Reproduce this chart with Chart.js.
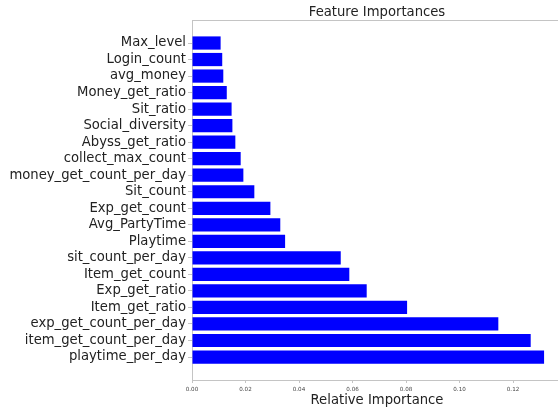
<!DOCTYPE html>
<html>
<head>
<meta charset="utf-8">
<script src="https://cdn.jsdelivr.net/npm/chart.js@4/dist/chart.umd.min.js"></script>
<style>
  html, body { margin: 0; padding: 0; background: #fff; overflow: hidden; }
  #wrap { width: 580px; height: 410px; position: relative; }
</style>
</head>
<body>
<div id="wrap"><canvas id="c"></canvas></div>
<script>
const features = [
  "Max_level", "Login_count", "avg_money", "Money_get_ratio", "Sit_ratio",
  "Social_diversity", "Abyss_get_ratio", "collect_max_count", "money_get_count_per_day",
  "Sit_count", "Exp_get_count", "Avg_PartyTime", "Playtime", "sit_count_per_day",
  "Item_get_count", "Exp_get_ratio", "Item_get_ratio", "exp_get_count_per_day",
  "item_get_count_per_day", "playtime_per_day"
];
const importances = [
  0.0107, 0.0113, 0.0117, 0.0130, 0.0148,
  0.0151, 0.0162, 0.0182, 0.0192,
  0.0233, 0.0293, 0.0330, 0.0348, 0.0556,
  0.0588, 0.0653, 0.0804, 0.1145,
  0.1266, 0.1316
];
const xTickStep = 0.02;

const FONT = "'DejaVu Sans', sans-serif";
const SPINE = '#c4c4c4';

const topBorder = {
  id: 'topBorder',
  afterDraw(chart) {
    const a = chart.chartArea, ctx = chart.ctx;
    ctx.save();
    ctx.strokeStyle = SPINE;
    ctx.lineWidth = 1;
    ctx.beginPath();
    ctx.moveTo(a.left, Math.round(a.top) + 0.5);
    ctx.lineTo(a.right, Math.round(a.top) + 0.5);
    ctx.stroke();
    ctx.restore();
  }
};

new Chart(document.getElementById('c'), {
  type: 'bar',
  data: {
    datasets: [{
      data: importances.map((v, i) => ({ x: v, y: i })),
      backgroundColor: '#0000ff',
      borderWidth: 0,
      barPercentage: 0.8,
      categoryPercentage: 1.0
    }]
  },
  options: {
    indexAxis: 'y',
    responsive: true,
    maintainAspectRatio: false,
    animation: false,
    layout: { padding: { left: 0, right: 18, top: 0, bottom: 0 } },
    plugins: {
      legend: { display: false },
      tooltip: { enabled: false },
      title: {
        display: true,
        text: 'Feature Importances',
        fullSize: false,
        color: '#222',
        font: { family: FONT, size: 13.2, weight: 'normal' },
        padding: { top: 4.2, bottom: 0 }
      }
    },
    scales: {
      x: {
        type: 'linear',
        bounds: 'data',
        offset: false,
        min: 0,
        max: 0.1383,
        border: { display: true, color: SPINE, width: 1 },
        grid: { drawOnChartArea: false, drawTicks: true, tickLength: 3, color: SPINE },
        ticks: {
          stepSize: xTickStep,
          includeBounds: false,
          maxRotation: 0,
          autoSkip: false,
          padding: 3.5,
          color: '#444',
          font: { family: FONT, size: 5.6 },
          callback: (v) => Number(v).toFixed(2)
        },
        title: {
          display: true,
          text: 'Relative Importance',
          color: '#222',
          font: { family: FONT, size: 13.2 },
          padding: { top: 0, bottom: 1.5 }
        },
        afterFit: (s) => { s.height = 30; }
      },
      y: {
        type: 'linear',
        bounds: 'data',
        offset: false,
        reverse: true,
        min: -1.39,
        max: features.length - 1 + 1.39,
        border: { display: true, color: SPINE, width: 1 },
        grid: { offset: false, drawOnChartArea: false, drawTicks: true, tickLength: 4, color: SPINE },
        afterBuildTicks: (axis) => { axis.ticks = features.map((_, i) => ({ value: i })); },
        ticks: {
          autoSkip: false,
          includeBounds: false,
          padding: 2,
          color: '#222',
          font: { family: FONT, size: 13.2 },
          callback: (v) => features[Math.round(v)]
        },
        afterFit: (s) => { s.width = 192; }
      }
    }
  },
  plugins: [topBorder]
});
</script>
</body>
</html>
